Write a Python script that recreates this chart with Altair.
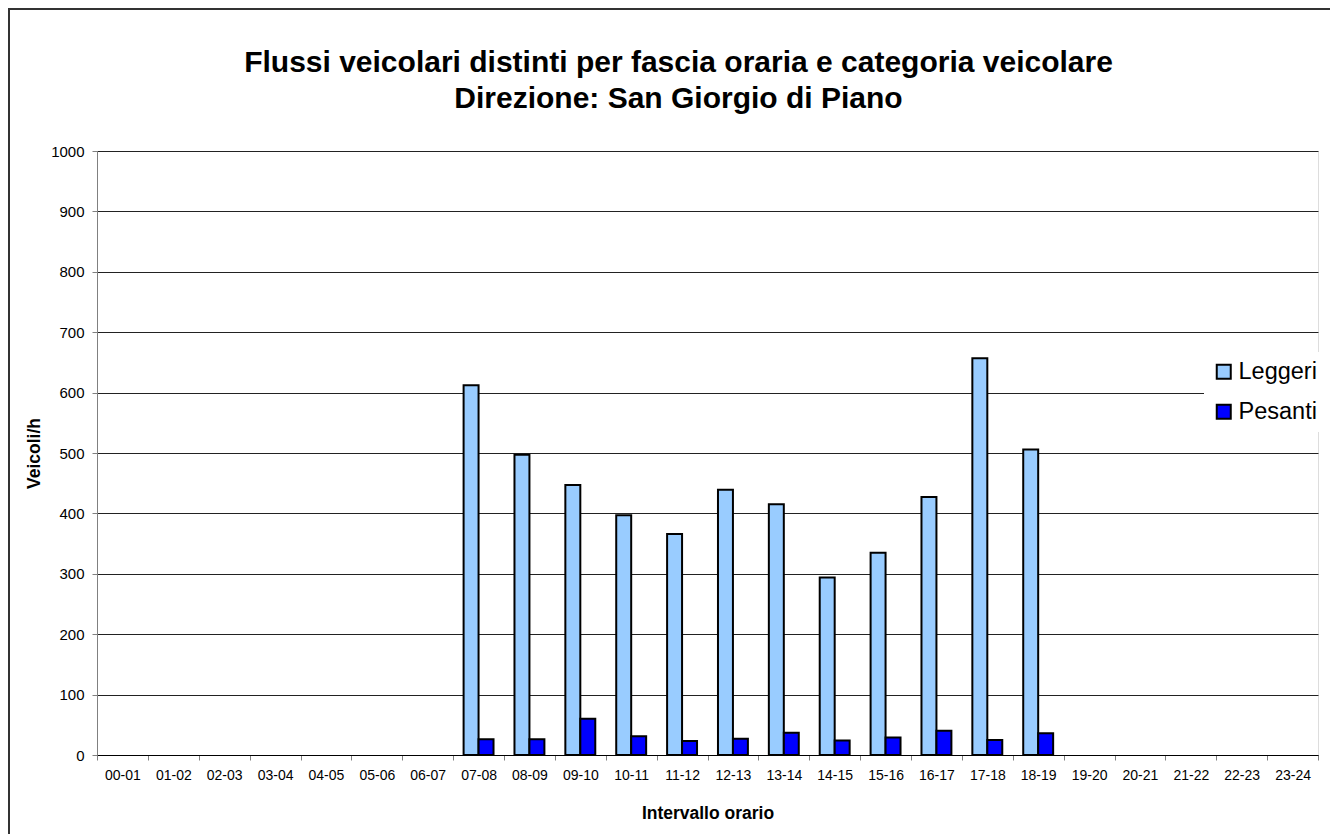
import altair as alt
import pandas as pd

# ---- data ----
hours = ["00-01", "01-02", "02-03", "03-04", "04-05", "05-06", "06-07", "07-08",
         "08-09", "09-10", "10-11", "11-12", "12-13", "13-14", "14-15", "15-16",
         "16-17", "17-18", "18-19", "19-20", "20-21", "21-22", "22-23", "23-24"]
surveyed_hours = ["07-08", "08-09", "09-10", "10-11", "11-12", "12-13",
                  "13-14", "14-15", "15-16", "16-17", "17-18", "18-19"]
leggeri = [612, 497, 447, 397, 366, 439, 415, 294, 335, 427, 657, 506]
pesanti = [26, 26, 60, 31, 23, 27, 37, 24, 29, 40, 25, 36]
series = ["Leggeri", "Pesanti"]
colors = ["#99CCFF", "#0000FF"]
y_ticks = [0, 100, 200, 300, 400, 500, 600, 700, 800, 900, 1000]

rows = []
for h, l, p in zip(surveyed_hours, leggeri, pesanti):
    rows.append({"fascia": h, "categoria": "Leggeri", "veicoli": l})
    rows.append({"fascia": h, "categoria": "Pesanti", "veicoli": p})
df = pd.DataFrame(rows)

W, H = 1221, 604
FONT = "Liberation Sans"

bars = alt.Chart(df).mark_bar(stroke="black", strokeWidth=2, strokeJoin="miter").encode(
    x=alt.X("fascia:N",
            scale=alt.Scale(domain=hours, paddingInner=0, paddingOuter=0),
            axis=alt.Axis(title="Intervallo orario", labelAngle=0, tickBand="extent",
                          labelFont=FONT, labelFontSize=14, labelColor="black",
                          labelPadding=8, tickSize=5, tickColor="#808080",
                          domainColor="black", domainWidth=1, grid=False,
                          titleFont=FONT, titleFontSize=17.5, titleFontWeight="bold",
                          titleColor="black", titlePadding=22)),
    xOffset=alt.XOffset("categoria:N",
                        scale=alt.Scale(domain=series, paddingInner=0, paddingOuter=0.7)),
    y=alt.Y("veicoli:Q",
            scale=alt.Scale(domain=[0, 1000], nice=False),
            axis=alt.Axis(title="Veicoli/h", values=y_ticks, format="d",
                          labelFont=FONT, labelFontSize=15, labelColor="black",
                          labelPadding=8, tickSize=5, tickColor="#808080",
                          domainColor="#808080", domainWidth=1,
                          grid=True, gridColor="#222222", gridWidth=1,
                          titleFont=FONT, titleFontSize=17.5, titleFontWeight="bold",
                          titleColor="black", titlePadding=7)),
    color=alt.Color("categoria:N",
                    scale=alt.Scale(domain=series, range=colors),
                    legend=alt.Legend(title=None, orient="none", legendX=1107, legendY=201,
                                      labelFont=FONT, labelFontSize=23.5, labelColor="black",
                                      symbolType="square", symbolSize=196,
                                      symbolStrokeColor="black", symbolStrokeWidth=2,
                                      symbolOpacity=1, labelOffset=3, rowPadding=15,
                                      fillColor="white", padding=8)),
)

frame = alt.Chart(pd.DataFrame({"f": [0]})).mark_rect(
    filled=False, stroke="#333333", strokeWidth=2
).encode(
    x=alt.value(-88), x2=alt.value(W + 200),
    y=alt.value(-142), y2=alt.value(H + 300),
)

chart = alt.layer(frame, bars).properties(
    width=W, height=H,
    title=alt.TitleParams(
        text=["Flussi veicolari distinti per fascia oraria e categoria veicolare",
              "Direzione: San Giorgio di Piano"],
        font=FONT, fontSize=30, fontWeight="bold", color="black",
        lineHeight=36, anchor="middle", frame="group", dx=-29, offset=-106),
    autosize=alt.AutoSizeParams(type="none"),
    padding={"left": 89, "top": 143, "right": 12, "bottom": 79},
).configure_view(stroke=None).configure(background="white")

chart.save("out.html", embed_options={"renderer": "svg", "actions": False})
